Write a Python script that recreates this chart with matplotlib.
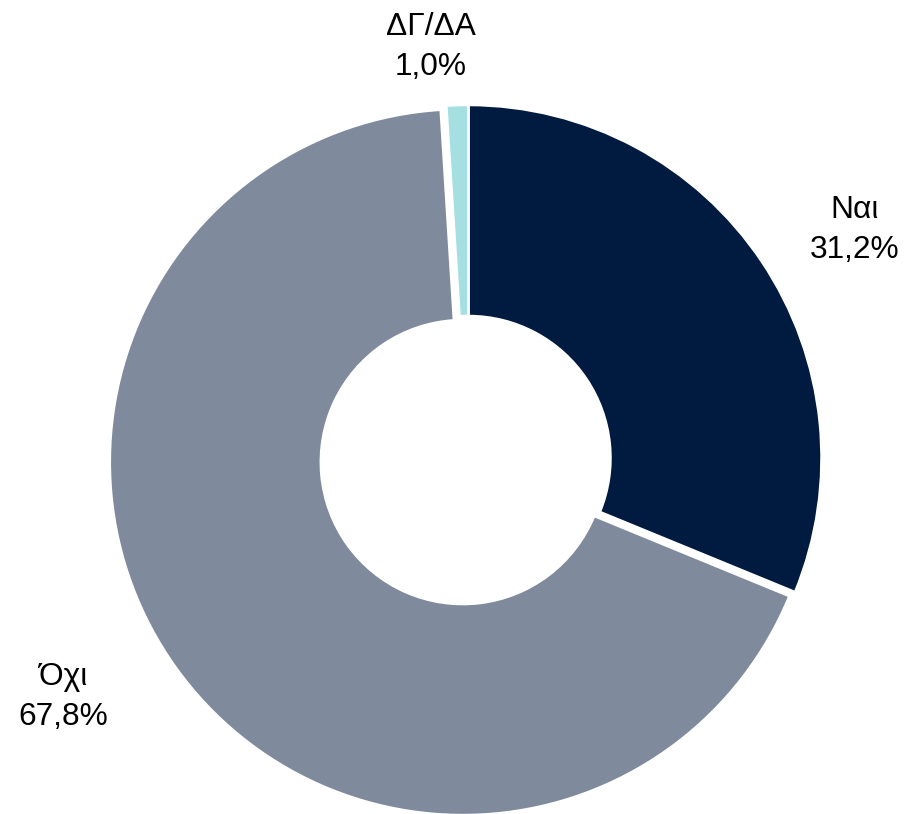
import matplotlib
matplotlib.use("Agg")
import matplotlib.pyplot as plt

categories = ["Ναι", "Όχι", "ΔΓ/ΔΑ"]
values = [31.2, 67.8, 1.0]
value_labels = ["31,2%", "67,8%", "1,0%"]

colors = ["#011a3f", "#7f8a9c", "#a6dfe1"]
label_pos = [(855, 814 - 230), (63, 814 - 697), (431, 814 - 47)]

W, H = 908, 814
R = 353
r_in = 142
explode = [0, 7, 0]  # in pixels (data units)

fig = plt.figure(figsize=(W / 100, H / 100), dpi=100)
ax = fig.add_axes([0, 0, 1, 1])

ax.pie(values, colors=colors, startangle=90, counterclock=False,
       explode=explode, radius=R, center=(468.5, H - 458), frame=True,
       wedgeprops=dict(width=R - r_in, edgecolor="white", linewidth=1.8))
ax.set_xlim(0, W)
ax.set_ylim(0, H)
ax.set_aspect("equal")
ax.axis("off")

for cat, vl, (x, y) in zip(categories, value_labels, label_pos):
    ax.text(x, y, f"{cat}\n{vl}", ha="center", va="center",
            multialignment="center", fontsize=22.8, linespacing=1.42,
            family=["Liberation Sans", "DejaVu Sans"], color="#000000")

fig.savefig("out.png", dpi=100)
